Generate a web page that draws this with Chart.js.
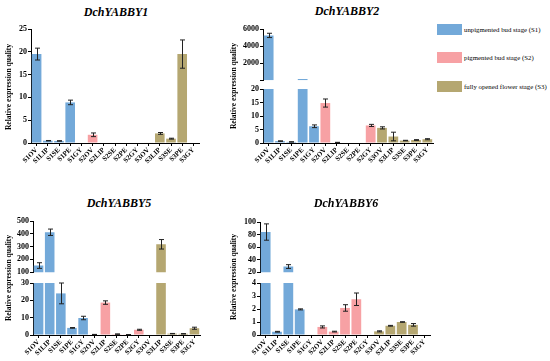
<!DOCTYPE html>
<html lang="en">
<head>
  <meta charset="UTF-8" />
  <title>DchYABBY relative expression</title>
  <script src="https://cdn.jsdelivr.net/npm/chart.js"></script>
  <style>
    body { margin: 0; background: #fff; }
    #wrap { position: relative; width: 550px; height: 361px; overflow: hidden; font-family: 'Liberation Serif', serif; }
    #wrap canvas { position: absolute; }
    .title { position: absolute; font: italic bold 12px 'Liberation Serif', serif; transform: translate(-50%, -50%); white-space: nowrap; }
    .ylab { position: absolute; font: bold 7.5px 'Liberation Serif', serif; transform: translate(-50%, -50%) rotate(-90deg); white-space: nowrap; }
    .leg { position: absolute; left: 437px; height: 11px; display: flex; align-items: center; font: 6.8px 'Liberation Serif', serif; white-space: nowrap; }
    .leg span { display: inline-block; width: 25px; height: 11px; margin-right: 2px; }
  </style>
</head>
<body>
  <div id="wrap"></div>

  <script>
    const categories = ['S1OV', 'S1LIP', 'S1SE', 'S1PE', 'S1GY', 'S2OV', 'S2LIP', 'S2SE', 'S2PE', 'S2GY', 'S3OV', 'S3LIP', 'S3SE', 'S3PE', 'S3GY'];
    const stageOf = [0, 0, 0, 0, 0, 1, 1, 1, 1, 1, 2, 2, 2, 2, 2];
    const stageLabels = ['unpigmented bud stage (S1)', 'pigmented bud stage (S2)', 'fully opened flower stage (S3)'];
    const stageColors = ['#73a9d9', '#f7a1a4', '#b5a771'];

    const y1Values = [19.5, 0.5, 0.45, 8.9, 0, 1.8, 0, 0, 0, 0, 0.1, 2.1, 0.95, 19.5, 0];
    const y1Errors = [1.3, 0.05, 0.05, 0.5, 0, 0.4, 0, 0, 0, 0, 0, 0.2, 0.1, 3.1, 0];
    const y2Values = [5250, 0.7, 0.4, 150, 6.2, 14.8, 0.2, 0, 0, 6.5, 5.6, 2.4, 0.9, 1.1, 1.4];
    const y2Errors = [250, 0.1, 0.05, 0, 0.5, 1.5, 0.05, 0, 0, 0.4, 0.4, 1.6, 0.1, 0.15, 0.2];
    const y5Values = [152, 412, 24, 4.1, 9.8, 0.3, 18.7, 0.5, 0.2, 3.0, 0, 318, 0.8, 0.7, 3.9];
    const y5Errors = [22, 25, 6, 0.2, 1, 0.05, 1, 0.1, 0.05, 0.3, 0, 37, 0.1, 0.1, 0.6];
    const y6Values = [84, 0.25, 29, 1.97, 0, 0.62, 0.26, 2.08, 2.75, 0, 0.28, 0.71, 1.0, 0.78, 0.04];
    const y6Errors = [13, 0.03, 3, 0.04, 0, 0.08, 0.03, 0.25, 0.48, 0, 0.04, 0.03, 0.02, 0.1, 0];

    // y tick values per axis segment (empty label = tick mark only)
    const y1Ticks = [0, 5, 10, 15, 20, 25];
    const y2LowTicks = [0, 5, 10, 15, 20];
    const y2HighTicks = [20, 2000, 4000, 6000];
    const y2HighLabels = ['', '2000', '4000', '6000'];
    const y5LowTicks = [0, 10, 20, 30];
    const y5HighTicks = [100, 200, 300, 400, 500];
    const y6LowTicks = [0, 1, 2, 3, 4];
    const y6HighTicks = [20, 40, 60, 80, 100];

    const FONT = "'Liberation Serif', serif";
    const AXIS_W = 26, XAXIS_H = 28, PAD_T = 8, PAD_R = 4, PAD_B = 4;

    const errorBars = {
      id: 'errorBars',
      afterDatasetsDraw(chart, args, opts) {
        const { ctx, chartArea } = chart;
        const xs = chart.scales.x, ys = chart.scales.y;
        ctx.save();
        ctx.beginPath();
        ctx.rect(chartArea.left, chartArea.top - 1, chartArea.width, chartArea.height + 1);
        ctx.clip();
        ctx.strokeStyle = '#222';
        ctx.lineWidth = 1;
        opts.values.forEach((v, i) => {
          const e = opts.errors[i];
          if (!e || v <= ys.min || v > ys.max) return;
          const x = Math.round(xs.getPixelForValue(i)) + 0.5;
          const yTop = ys.getPixelForValue(v + e);
          const yBot = ys.getPixelForValue(Math.max(v - e, 0));
          ctx.beginPath();
          ctx.moveTo(x, yTop); ctx.lineTo(x, yBot);
          ctx.moveTo(x - 2.5, yTop); ctx.lineTo(x + 2.5, yTop);
          ctx.moveTo(x - 2.5, yBot); ctx.lineTo(x + 2.5, yBot);
          ctx.stroke();
        });
        ctx.restore();
      }
    };

    // one segment of a (possibly broken) y axis
    function segment(box, values, errors, min, max, ticks, labels, showX) {
      const canvas = document.createElement('canvas');
      const h = PAD_T + (box.bottom - box.top) + (showX ? XAXIS_H : PAD_B);
      const w = AXIS_W + (box.right - box.left) + PAD_R;
      canvas.width = w; canvas.height = h;
      canvas.style.left = (box.left - AXIS_W) + 'px';
      canvas.style.top = (box.top - PAD_T) + 'px';
      document.getElementById('wrap').appendChild(canvas);
      const data = values.map(v => (v > min ? v : null));
      new Chart(canvas, {
        type: 'bar',
        data: {
          labels: categories,
          datasets: [{
            data: data,
            backgroundColor: stageOf.map(s => stageColors[s]),
            borderWidth: 0,
            categoryPercentage: 0.86,
            barPercentage: 1,
            clip: 0
          }]
        },
        options: {
          responsive: false,
          animation: false,
          events: [],
          layout: { padding: { top: PAD_T, right: PAD_R, bottom: showX ? 0 : PAD_B, left: 0 } },
          plugins: { legend: { display: false }, tooltip: { enabled: false }, errorBars: { values, errors } },
          scales: {
            x: {
              display: showX,
              offset: true,
              grid: { display: true, drawOnChartArea: false, offset: false, tickLength: 3, color: '#000' },
              border: { color: '#000', width: 1 },
              ticks: { autoSkip: false, minRotation: 45, maxRotation: 45, padding: 0, color: '#000', font: { family: FONT, size: 7, weight: 'bold' } },
              afterFit(s) { if (showX) s.height = XAXIS_H; }
            },
            y: {
              min: min, max: max,
              grid: { drawOnChartArea: false, tickLength: 3, color: '#000' },
              border: { color: '#000', width: 1 },
              afterBuildTicks(s) { s.ticks = ticks.map(t => ({ value: t })); },
              ticks: {
                autoSkip: false,
                padding: 1, color: '#000', font: { family: FONT, size: 8, weight: 'bold' },
                callback(v, i) { return labels ? labels[i] : String(v); }
              },
              afterFit(s) { s.width = AXIS_W; }
            }
          }
        },
        plugins: [errorBars]
      });
    }

    function text(cls, html, x, y) {
      const d = document.createElement('div');
      d.className = cls; d.innerHTML = html;
      d.style.left = x + 'px'; d.style.top = y + 'px';
      document.getElementById('wrap').appendChild(d);
    }

    // DchYABBY1: single axis
    segment({ left: 31, right: 199, top: 29, bottom: 143 }, y1Values, y1Errors, 0, 25, y1Ticks, null, true);
    // DchYABBY2: broken axis
    segment({ left: 263, right: 433, top: 29, bottom: 82 }, y2Values, y2Errors, 20, 6000, y2HighTicks, y2HighLabels, false);
    segment({ left: 263, right: 433, top: 89, bottom: 143 }, y2Values, y2Errors, 0, 20, y2LowTicks, null, true);
    // DchYABBY5
    segment({ left: 33, right: 200, top: 221, bottom: 274 }, y5Values, y5Errors, 100, 500, y5HighTicks, null, false);
    segment({ left: 33, right: 200, top: 283, bottom: 335 }, y5Values, y5Errors, 0, 30, y5LowTicks, null, true);
    // DchYABBY6
    segment({ left: 260, right: 430, top: 222, bottom: 274 }, y6Values, y6Errors, 20, 100, y6HighTicks, null, false);
    segment({ left: 260, right: 430, top: 283, bottom: 335 }, y6Values, y6Errors, 0, 4, y6LowTicks, null, true);

    text('title', 'DchYABBY1', 116, 12);
    text('title', 'DchYABBY2', 347, 11);
    text('title', 'DchYABBY5', 119, 203);
    text('title', 'DchYABBY6', 346, 203);
    const ytitle = 'Relative expression quality';
    text('ylab', ytitle, 8, 87);
    text('ylab', ytitle, 233, 86);
    text('ylab', ytitle, 8, 278);
    text('ylab', ytitle, 233, 277);

    [29.5, 57.5, 86.5].forEach((y, i) => {
      const d = document.createElement('div');
      d.className = 'leg';
      d.style.top = (y - 5.5) + 'px';
      d.innerHTML = '<span style="background:' + stageColors[i] + '"></span>' + stageLabels[i];
      document.getElementById('wrap').appendChild(d);
    });
  </script>
</body>
</html>
